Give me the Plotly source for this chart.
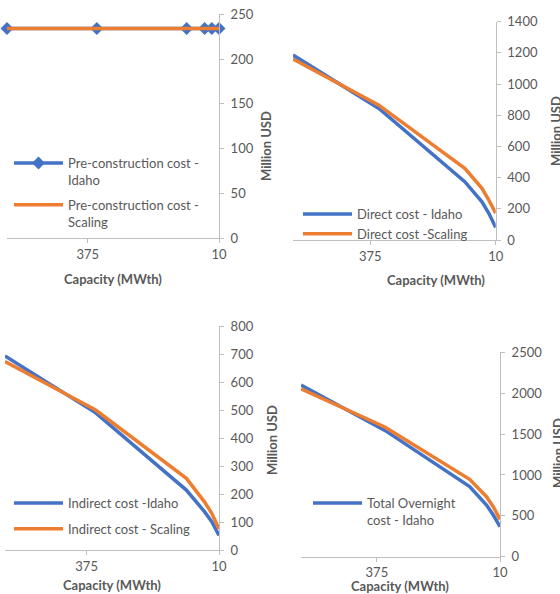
import plotly.graph_objects as go

# ---- data ----
capacity = [600, 350, 100, 50, 30, 10]
x_tickvals = [375, 10]
x_ticktext = ["375", "10"]

pre_idaho = [234, 234, 234, 234, 234, 234]
pre_scaling = [234, 234, 234, 234, 234, 234]
direct_idaho = [1186, 844, 374, 245, 171, 81]
direct_scaling = [1160, 865, 460, 331, 256, 172]
indirect_idaho = [693, 490, 214, 137, 101, 52]
indirect_scaling = [673, 500, 256, 172, 131, 75]
total_idaho = [2101, 1542, 857, 632, 510, 367]
total_scaling = [2052, 1583, 947, 734, 612, 457]

names = {
    "pre_i": "Pre-construction cost -<br>Idaho",
    "pre_s": "Pre-construction cost -<br>Scaling",
    "dir_i": "Direct cost - Idaho",
    "dir_s": "Direct cost -Scaling",
    "ind_i": "Indirect cost -Idaho",
    "ind_s": "Indirect cost - Scaling",
    "tot_i": "Total Overnight<br>cost - Idaho",
    "tot_s": "Total Overnight cost - Scaling",
}

BLUE = "#4472C4"
ORANGE = "#ED7D31"
GRAY = "#595959"
AXIS = "#BFBFBF"
FONT = "Lato"
W, H = 560, 594

fig = go.Figure()

def add(xaxis, yaxis, y, name, color, legend, group, marker=False, showlegend=True):
    fig.add_trace(go.Scatter(
        x=capacity, y=y, name=name, xaxis=xaxis, yaxis=yaxis,
        mode="lines+markers" if marker else "lines",
        line=dict(color=color, width=3.5),
        marker=dict(symbol="diamond", size=10, color=color) if marker else None,
        legend=legend, legendgroup=group, showlegend=showlegend,
        cliponaxis=False,
    ))

add("x", "y", pre_idaho, names["pre_i"], BLUE, "legend", "a", marker=True)
add("x", "y", pre_scaling, names["pre_s"], ORANGE, "legend", "b")
add("x2", "y2", direct_idaho, names["dir_i"], BLUE, "legend2", "c")
add("x2", "y2", direct_scaling, names["dir_s"], ORANGE, "legend2", "d")
add("x3", "y3", indirect_idaho, names["ind_i"], BLUE, "legend3", "e")
add("x3", "y3", indirect_scaling, names["ind_s"], ORANGE, "legend3", "f")
add("x4", "y4", total_idaho, names["tot_i"], BLUE, "legend4", "g")
add("x4", "y4", total_scaling, names["tot_s"], ORANGE, "legend4", "h", showlegend=False)

def px_x(p):
    return min(1.0, max(0.0, p / W))

def px_y(p):
    return min(1.0, max(0.0, 1 - p / H))

# panel pixel boxes in page pixels: (left, right, top, bottom)
boxes = {
    1: (7, 219, 14.3, 238),
    2: (293, 495.7, 21.7, 240),
    3: (5, 219, 326, 550),
    4: (301, 500, 352.3, 556.7),
}
yranges = {1: (250, 50), 2: (1400, 200), 3: (800, 100), 4: (2500, 500)}

layout = dict(
    template="none",
    width=W, height=H, margin=dict(l=0, r=0, t=0, b=0, pad=0),
    paper_bgcolor="white", plot_bgcolor="white",
    font=dict(family=FONT, size=13, color=GRAY),
    showlegend=True,
)

for i in range(1, 5):
    l, r, t, b = boxes[i]
    sx = "" if i == 1 else str(i)
    ymax, dt = yranges[i]
    layout["xaxis" + sx] = dict(
        domain=[px_x(l), px_x(r)], range=[600, 10], anchor="y" + sx,
        tickmode="array", tickvals=x_tickvals, ticktext=x_ticktext,
        showline=True, linecolor=AXIS, linewidth=1, ticks="outside",
        ticklen=4, tickcolor=AXIS, showgrid=False, zeroline=False,
        automargin=False, ticklabeloverflow="allow",
        tickfont=dict(family=FONT, size=13, color=GRAY),
    )
    layout["yaxis" + sx] = dict(
        domain=[px_y(b), px_y(t)], range=[0, ymax], dtick=dt, anchor="x" + sx,
        side="right", showline=True, linecolor=AXIS, linewidth=1,
        ticks="outside", ticklen=4, tickcolor=AXIS, showgrid=False,
        zeroline=False, automargin=False, ticklabeloverflow="allow",
        tickfont=dict(family=FONT, size=13, color=GRAY),
        ticklabelstandoff=4,
    )

leg_common = dict(
    bgcolor="rgba(0,0,0,0)", font=dict(family=FONT, size=13, color=GRAY),
    itemwidth=49, valign="top", xanchor="left", yanchor="top",
    traceorder="grouped", itemclick=False, itemdoubleclick=False,
    borderwidth=0,
)
layout["legend"] = dict(leg_common, x=px_x(9), y=px_y(148), tracegroupgap=5)
layout["legend2"] = dict(leg_common, x=px_x(298), y=px_y(199), tracegroupgap=0)
layout["legend3"] = dict(leg_common, x=px_x(9), y=px_y(488), tracegroupgap=6)
layout["legend4"] = dict(leg_common, x=px_x(308), y=px_y(488), tracegroupgap=0)

title_font = dict(family=FONT, size=13, color=GRAY)
ann = []
# x-axis titles
for cx, cy in [(113, 279), (436, 280), (112, 585), (400, 586)]:
    ann.append(dict(text="<b>Capacity (MWth)</b>", x=px_x(cx), y=px_y(cy),
                    xref="paper", yref="paper", showarrow=False,
                    xanchor="center", yanchor="middle", font=title_font))
# y-axis titles
for cx, cy in [(266, 146), (556, 131), (272, 440), (558, 453)]:
    ann.append(dict(text="<b>Million USD</b>", x=px_x(cx), y=px_y(cy),
                    xref="paper", yref="paper", showarrow=False, textangle=-90,
                    xanchor="center", yanchor="middle", font=title_font))
layout["annotations"] = ann

fig.update_layout(**layout)
fig.write_html(
    "out.html",
    config={"displayModeBar": False},
    post_script="document.body.style.margin='0';document.body.style.overflow='hidden';",
)
